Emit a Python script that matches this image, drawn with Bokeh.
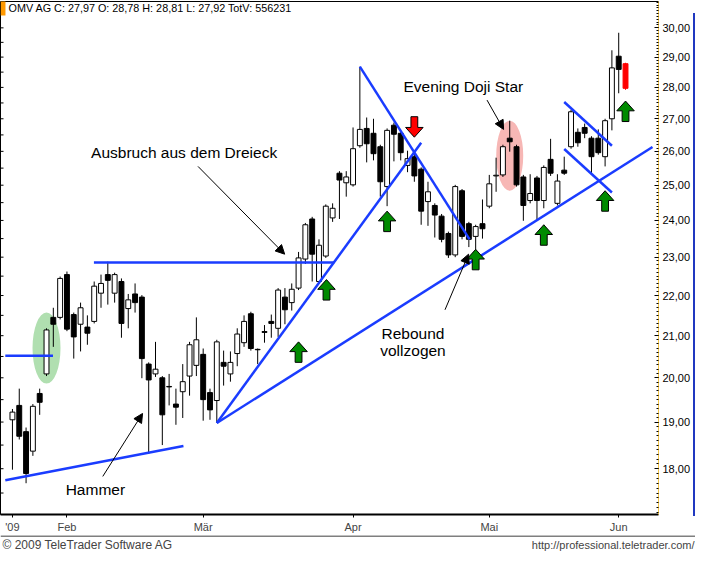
import math
from bokeh.plotting import figure
from bokeh.layouts import column, row
from bokeh.models import (Range1d, FixedTicker, CustomJSTickFormatter, Spacer,
                          Label, Arrow, NormalHead, ColumnDataSource)
from bokeh.embed import file_html
from bokeh.resources import INLINE

# ---------------- data ----------------
opens = [19.05, 19.37, 18.79, 18.37, 19.64, 20.09, 21.45, 21.45, 22.54, 21.52,
         21.28, 21.21, 21.35, 22.06, 22.54, 22.06, 22.36, 21.67, 22.04, 21.96,
         20.32, 20.09, 20.00, 19.80, 19.40, 19.68, 20.04, 20.29, 20.55, 19.66,
         19.48, 20.36, 20.09, 20.57, 20.83, 21.54, 20.67, 21.10, 21.35, 21.18,
         21.96, 21.82, 22.19, 22.95, 24.04, 22.36, 23.03, 24.07, 25.35, 25.07,
         25.01, 26.17, 26.70, 26.55, 26.14, 24.96, 26.80, 26.55, 25.58, 25.84,
         25.47, 24.53, 24.42, 24.12, 23.64, 23.06, 24.84, 23.91, 23.56, 23.91,
         24.40, 25.27, 25.30, 26.40, 26.14, 25.24, 24.56, 25.21, 24.56, 25.76,
         24.48, 25.44, 26.14, 26.58, 26.73, 26.40, 26.40, 25.84, 27.00, 29.03,
         28.78]
highs = [19.29, 19.75, 18.88, 19.40, 19.75, 21.18, 21.69, 22.49, 22.62, 21.57,
         21.82, 21.50, 22.36, 22.54, 22.88, 22.59, 22.44, 22.04, 22.31, 22.01,
         20.36, 20.85, 20.04, 20.09, 19.75, 20.32, 20.85, 21.45, 20.69, 19.75,
         20.90, 20.64, 20.62, 21.18, 21.50, 21.59, 20.69, 21.26, 21.52, 22.19,
         22.19, 22.31, 23.14, 23.93, 24.10, 23.48, 24.45, 24.48, 25.41, 25.41,
         26.73, 28.68, 27.04, 27.00, 26.20, 26.70, 26.88, 26.61, 26.02, 25.99,
         25.52, 25.10, 24.48, 24.18, 23.69, 25.01, 24.89, 23.96, 23.88, 24.59,
         25.30, 25.81, 26.20, 26.94, 26.20, 25.30, 25.32, 25.27, 25.58, 26.38,
         25.32, 25.84, 27.28, 26.70, 26.85, 26.46, 26.67, 27.00, 29.23, 29.83,
         28.81]
lows = [17.98, 18.62, 17.70, 18.27, 19.16, 20.04, 20.73, 21.40, 21.11, 20.45,
        20.62, 20.78, 21.30, 21.69, 21.77, 21.82, 20.95, 21.18, 21.57, 19.99,
        18.31, 20.02, 18.50, 19.37, 18.94, 19.09, 19.59, 20.04, 19.03, 19.05,
        18.98, 19.82, 19.91, 20.27, 20.73, 20.64, 20.32, 20.83, 20.95, 20.97,
        21.28, 21.62, 22.14, 22.82, 22.36, 22.31, 22.98, 23.96, 24.04, 24.67,
        24.96, 26.11, 25.67, 25.73, 24.67, 24.40, 25.70, 25.73, 25.38, 25.10,
        23.88, 23.85, 23.53, 23.40, 22.98, 23.00, 23.48, 23.27, 23.06, 23.50,
        24.34, 24.81, 25.24, 25.99, 24.96, 23.99, 24.48, 23.99, 24.34, 25.27,
        24.42, 25.30, 26.08, 26.14, 26.40, 25.35, 25.90, 25.55, 26.64, 27.81,
        27.92]
closes = [19.22, 18.69, 17.90, 19.35, 19.44, 21.14, 21.28, 22.44, 21.16, 20.97,
          21.69, 21.06, 22.24, 22.31, 22.39, 22.54, 21.30, 21.89, 21.82, 20.45,
          19.95, 20.20, 19.16, 19.79, 19.33, 19.91, 20.78, 20.90, 19.50, 19.27,
          20.85, 20.27, 20.36, 21.04, 21.35, 20.69, 20.66, 21.08, 21.30, 22.14,
          21.64, 22.16, 22.98, 23.88, 23.08, 23.32, 24.40, 24.34, 25.15, 25.24,
          26.08, 26.67, 26.23, 25.93, 25.10, 26.64, 26.52, 25.96, 25.78, 25.27,
          24.26, 24.81, 24.15, 23.48, 23.06, 24.96, 23.56, 23.48, 23.83, 23.77,
          25.04, 25.29, 26.14, 26.29, 25.01, 24.42, 24.76, 24.56, 25.52, 25.35,
          25.12, 25.35, 27.22, 26.26, 26.55, 25.84, 25.96, 26.94, 28.64, 28.59,
          27.97]

date_ticks = [0, 8, 28, 50, 70, 89]
date_labels = ["'09", "Feb", "Mär", "Apr", "Mai", "Jun"]
price_ticks = [18, 19, 20, 21, 22, 23, 24, 25, 26, 27, 28, 29, 30]
left_ticks = [17.5, 18.0, 18.5, 19.0, 19.5, 20.0, 20.5, 21.0, 21.5, 22.0, 22.5,
              23.0, 23.5, 24.0, 24.5, 25.0, 25.5, 26.0, 26.5, 27.0, 27.5, 28.0,
              28.5, 29.0, 29.5, 30.0, 30.5]

# annotation data (x = trading-day index, y = price)
blue_x0 = [-1.05, -1.05, 11.96, 30.0, 30.0, 51.0, 81.0, 81.0]
blue_y0 = [20.52, 17.76, 22.86, 18.98, 18.98, 28.68, 27.53, 26.07]
blue_x1 = [5.95, 25.1, 47.24, 60.0, 93.96, 67.1, 88.0, 88.0]
blue_y1 = [20.52, 18.48, 22.86, 26.26, 26.13, 23.48, 26.17, 24.79]

up_arrow_x = [42.0, 46.1, 55.0, 68.0, 78.0, 87.0, 90.0]
up_arrow_tip = [20.85, 22.41, 24.26, 23.21, 23.88, 24.84, 27.56]
down_arrow_x = [59.0]
down_arrow_tip = [26.43]

last = len(opens) - 1
idx = list(range(len(opens)))
X0, X1 = -1.754, 94.84

FONT = "Liberation Sans"

# ---------------- main chart ----------------
p = figure(width=693, height=535, y_axis_type="log", y_axis_location="right",
           x_range=Range1d(X0, X1), y_range=Range1d(17.07, 30.93),
           output_backend="svg", toolbar_location=None,
           min_border_left=0, min_border_right=0, min_border_top=1,
           min_border_bottom=0)
p.grid.visible = False
p.outline_line_color = "black"
p.background_fill_color = "white"
p.border_fill_color = "white"

# right price axis
ya = p.yaxis[0]
ya.ticker = FixedTicker(ticks=price_ticks,
                        minor_ticks=[round(17.1 + 0.1 * k, 1) for k in range(140)])
ya.formatter = CustomJSTickFormatter(code="return tick.toFixed(2).replace('.', ',');")
ya.major_tick_in = 4
ya.major_tick_out = 0
ya.minor_tick_in = 2
ya.minor_tick_out = 0
ya.axis_line_color = "#f0c34a"
ya.major_tick_line_color = "black"
ya.minor_tick_line_color = "black"
ya.major_label_text_font = FONT
ya.major_label_text_font_size = "11px"
ya.major_label_text_color = "black"
ya.major_label_standoff = 4

# bottom date axis
xa = p.xaxis[0]
xa.ticker = FixedTicker(ticks=date_ticks)
xa.formatter = CustomJSTickFormatter(
    args=dict(pos=date_ticks, lab=date_labels),
    code="const i = pos.indexOf(tick); return i < 0 ? '' : lab[i];")
xa.axis_line_width = 2
xa.axis_line_color = "black"
xa.major_tick_in = 0
xa.major_tick_out = 3
xa.minor_tick_line_color = None
xa.major_label_text_font = FONT
xa.major_label_text_font_size = "11px"
xa.major_label_standoff = 3

# small tick marks along the left edge
p.ray(x=[X0] * len(left_ticks), y=left_ticks, length=3, length_units="screen",
      angle=0, line_color="black", line_width=1)

# ellipses
p.ellipse(x=[5], y=[20.70], width=28, height=71, width_units="screen",
          height_units="screen", fill_color="#b0dfb0", line_color=None)
p.ellipse(x=[73], y=[25.87], width=27, height=70, width_units="screen",
          height_units="screen", fill_color="#f7b7b5", line_color=None)

# candles
wick_col = ["black"] * last + ["#ff0000"]
p.segment(x0=idx, y0=lows, x1=idx, y1=highs, line_color=wick_col, line_width=1)
tops = [max(o, c) for o, c in zip(opens, closes)]
bots = [min(o, c) for o, c in zip(opens, closes)]
fills, lines = [], []
for i in idx:
    if i == last:
        fills.append("#ff0000"); lines.append("#ff0000")
    elif closes[i] >= opens[i]:
        fills.append("white"); lines.append("black")
    else:
        fills.append("black"); lines.append("black")
src = ColumnDataSource(dict(x=idx, top=tops, bottom=bots, fill=fills, line=lines))
p.vbar(x="x", top="top", bottom="bottom", width=0.72, fill_color="fill",
       line_color="line", line_width=1, source=src)

# blue trend lines
p.segment(x0=blue_x0, y0=blue_y0, x1=blue_x1, y1=blue_y1,
          line_color="#1a3cff", line_width=2.5)

# arrows (shape in reference pixel offsets: 7 px per day, 885 px per ln-unit)
shape = [(0, 0), (9, 10), (3.5, 10), (3.5, 21), (-3.5, 21), (-3.5, 10), (-9, 10)]
def arrow_patch(xc, tip, direction):
    xs = [xc + dx / 7.0 for dx, dy in shape]
    ys = [tip * math.exp(-direction * dy / 885.0) for dx, dy in shape]
    return xs, ys

gx, gy = zip(*[arrow_patch(x, t, 1) for x, t in zip(up_arrow_x, up_arrow_tip)])
p.patches(xs=list(gx), ys=list(gy), fill_color="#008a00", line_color="black", line_width=1)
rx, ry = zip(*[arrow_patch(x, t, -1) for x, t in zip(down_arrow_x, down_arrow_tip)])
p.patches(xs=list(rx), ys=list(ry), fill_color="#ff0000", line_color="black", line_width=1)

# text annotations
def txt(x, y, s, align="left", size="15.5px", x_units="data"):
    p.add_layout(Label(x=x, y=y, x_units=x_units, text=s, text_font=FONT,
                       text_font_size=size, text_align=align,
                       text_baseline="middle", text_color="black"))

txt(11.54, 25.96, "Ausbruch aus dem Dreieck")
txt(57.4, 28.04, "Evening Doji Star")
txt(7.81, 17.58, "Hammer")
txt(58.8, 21.06, "Rebound", align="center")
txt(58.8, 20.64, "vollzogen", align="center")

def arr(x0, y0, x1, y1):
    p.add_layout(Arrow(x_start=x0, y_start=y0, x_end=x1, y_end=y1,
                       line_color="black", line_width=1,
                       end=NormalHead(size=9, fill_color="black", line_color="black")))

arr(27.24, 25.55, 39.96, 23.08)
arr(69.67, 27.59, 72.1, 26.67)
arr(13.26, 17.84, 19.1, 19.19)
arr(63.5, 21.64, 66.96, 23.08)

# header
p.rect(x=[-1.39], y=[30.70], width=5, height=15, width_units="screen",
       height_units="screen", fill_color="#ff9900", line_color=None)
txt(8, 30.70, "OMV AG C: 27,97 O: 28,78 H: 28,81 L: 27,92 TotV: 556231",
    size="10.8px", x_units="screen")

# right blue border of the price-axis box
edge = Spacer(width=2, height=503, margin=(13, 0, 0, 0),
              styles={"background-color": "#2038c0"})

# ---------------- footer ----------------
f = figure(width=695, height=16, x_range=Range1d(0, 695), y_range=Range1d(0, 16),
           output_backend="svg", toolbar_location=None, min_border=0)
f.axis.visible = False
f.grid.visible = False
f.outline_line_color = None
f.segment(x0=[0], y0=[15.5], x1=[695], y1=[15.5], line_color="black", line_width=1)
f.add_layout(Label(x=2, y=7, text="© 2009 TeleTrader Software AG", text_font=FONT,
                   text_font_size="12px", text_baseline="middle"))
f.add_layout(Label(x=694, y=7, text="http://professional.teletrader.com/",
                   text_font=FONT, text_font_size="11px", text_align="right",
                   text_baseline="middle"))

layout = column(row(p, edge), f)
open("out.html", "w").write(file_html(layout, INLINE))
